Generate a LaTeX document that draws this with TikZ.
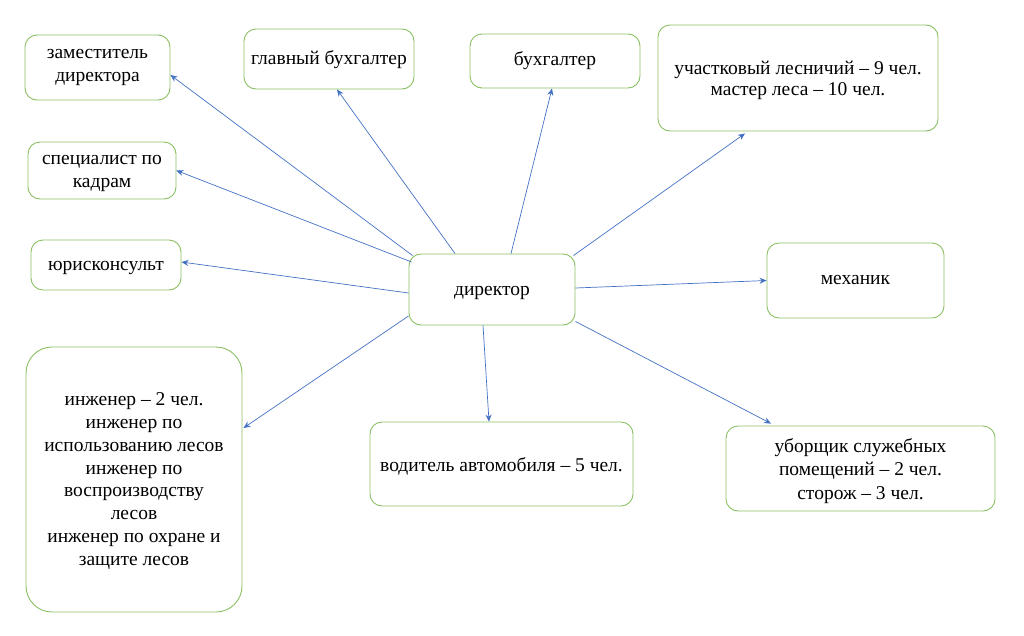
\documentclass[tikz,border=0pt]{standalone}
\usepackage{fontspec}
\setmainfont{Liberation Serif}
\usetikzlibrary{arrows.meta}
\definecolor{boxgreen}{RGB}{140,192,100}
\definecolor{arrblue}{RGB}{68,114,196}
\tikzset{
  box/.style={draw=boxgreen, line width=0.9pt, rounded corners=12pt, inner sep=0pt},
  lbl/.style={align=center, inner sep=0pt, font=\fontsize{19.5}{23}\selectfont},
  conn/.style={draw=arrblue, line width=0.7pt, -{Stealth[length=7pt,width=6pt]}},
}
\begin{document}
\begin{tikzpicture}[x=1pt,y=-1pt]
\useasboundingbox (0,0) rectangle (1024,635);
\fill[white] (0,0) rectangle (1024,635);
% boxes (centres and sizes in pixels of the reference)
\node[box, minimum width=145pt, minimum height=65pt] (zam) at (97.5,67.5) {};
\node[lbl] (zamt) at (97.5,67) {заместитель\\директора};
\node[box, minimum width=170pt, minimum height=60pt] (glav) at (329,59) {};
\node[lbl] (glavt) at (329,60) {главный бухгалтер};
\node[box, minimum width=170pt, minimum height=54pt] (buh) at (555,61) {};
\node[lbl] (buht) at (555,61) {бухгалтер};
\node[box, minimum width=280pt, minimum height=106pt] (uch) at (798,78) {};
\node[lbl, font=\fontsize{19.5}{21}\selectfont] (ucht) at (798,80.5) {участковый лесничий – 9 чел.\\мастер леса – 10 чел.};
\node[box, minimum width=148pt, minimum height=57pt] (spec) at (102,170.5) {};
\node[lbl] (spect) at (102,173) {специалист по\\кадрам};
\node[box, minimum width=150pt, minimum height=50pt] (yur) at (106,265) {};
\node[lbl] (yurt) at (106,268) {юрисконсульт};
\node[box, minimum width=166pt, minimum height=71pt] (dir) at (492,289.5) {};
\node[lbl] (dirt) at (492,293) {директор};
\node[box, minimum width=177pt, minimum height=75pt] (mech) at (855.5,280.5) {};
\node[lbl] (mecht) at (855.5,280) {механик};
\node[box, rounded corners=26pt, minimum width=216pt, minimum height=265pt] (eng) at (134,479.5) {};
\node[lbl, font=\fontsize{19.5}{22.86}\selectfont] (engt) at (134,481) {инженер – 2 чел.\\инженер по\\использованию лесов\\инженер по\\воспроизводству\\лесов\\инженер по охране и\\защите лесов};
\node[box, minimum width=263pt, minimum height=84pt] (vod) at (501.5,464) {};
\node[lbl] (vodt) at (501.5,466) {водитель автомобиля – 5 чел.};
\node[box, minimum width=269pt, minimum height=85pt] (ub) at (860.5,468.5) {};
\node[lbl, font=\fontsize{19.5}{23.5}\selectfont] (ubt) at (860.5,471) {уборщик служебных\\помещений – 2 чел.\\сторож – 3 чел.};
% connectors
\draw[conn] ([xshift=4pt,yshift=-2pt]dir.north west) -- ([yshift=-7.5pt]zam.east);
\draw[conn] ([xshift=-37pt]dir.north) -- ([xshift=8pt]glav.south);
\draw[conn] ([xshift=19pt]dir.north) -- ([xshift=-3pt]buh.south);
\draw[conn] ([xshift=-2pt,yshift=-2pt]dir.north east) -- ([xshift=-53pt,yshift=-2pt]uch.south);
\draw[conn] ([xshift=3pt,yshift=27.5pt]dir.west) -- (spec.east);
\draw[conn] ([yshift=-3.5pt]dir.west) -- ([yshift=3pt]yur.east);
\draw[conn] ([yshift=1.5pt]dir.east) -- (mech.west);
\draw[conn] ([yshift=-26.5pt]dir.west) -- ([xshift=1pt,yshift=51.5pt]eng.east);
\draw[conn] ([xshift=-9pt]dir.south) -- ([xshift=-12.5pt]vod.north);
\draw[conn] ([yshift=4pt]dir.south east) -- ([xshift=-89.5pt,yshift=2pt]ub.north);
\end{tikzpicture}
\end{document}
